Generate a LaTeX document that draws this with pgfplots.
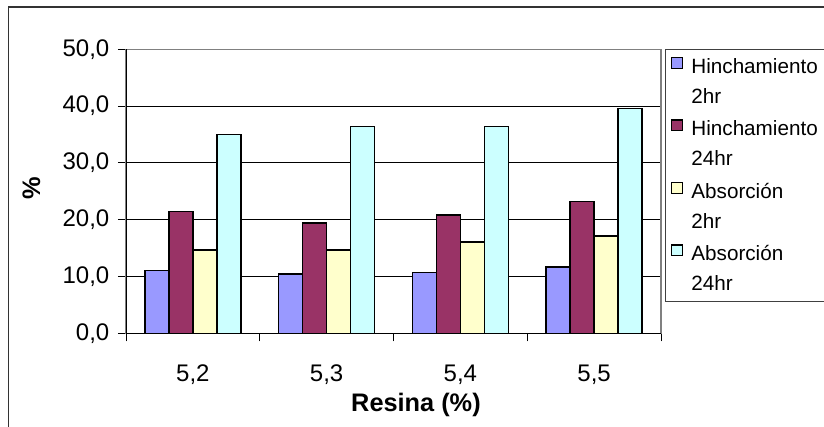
\documentclass[border=0pt]{standalone}
\usepackage{pgfplots}
\pgfplotsset{compat=1.18}
\usepackage{fontspec}
\setmainfont{Liberation Sans}

\definecolor{hin2}{HTML}{9999FF}
\definecolor{hin24}{HTML}{993366}
\definecolor{abs2}{HTML}{FFFFCC}
\definecolor{abs24}{HTML}{CCFFFF}
\definecolor{frame}{HTML}{808080}

\begin{document}
\begin{tikzpicture}[x=0.75pt,y=0.75pt]
\useasboundingbox (0,0) rectangle (824,427);
% outer chart border (left and top edges)
\draw[line width=1pt, black!80] (8.5,-5) -- (8.5,420) -- (830,420);

\begin{axis}[
  at={(94.5pt,70.275pt)}, anchor=south west,
  scale only axis, width=401.25pt, height=213pt,
  ymin=0, ymax=50, ytick={0,10,...,50},
  xmin=-0.5, xmax=3.5,
  xtick={0,1,2,3}, xticklabels={5{,}2,5{,}3,5{,}4,5{,}5},
  minor xtick={-0.5,0.5,1.5,2.5,3.5},
  major x tick style={draw=none},
  tick align=outside, tick pos=left,
  major tick length=6pt, minor tick length=6pt,
  every tick/.style={black, line width=0.6pt},
  ymajorgrids, grid style={black, line width=0.6pt},
  axis line style={frame, line width=0.9pt},
  /pgf/number format/.cd, fixed, fixed zerofill, precision=1, use comma, assume math mode=true,
  /pgfplots/.cd,
  yticklabel style={font=\fontsize{18}{21}\selectfont, xshift=-3pt},
  xticklabel style={font=\fontsize{18}{21}\selectfont, yshift=-14pt},
  ylabel={\%}, xlabel={Resina (\%)},
  label style={font=\fontsize{19}{22}\selectfont\bfseries},
  ylabel style={at={(axis description cs:-0.177,0.512)}, rotate=0, anchor=center},
  xlabel style={at={(axis description cs:0.542,-0.252)}, anchor=center},
  ybar=0pt, bar width=18pt,
  every axis plot/.append style={draw=black, line width=1.1pt},
  legend style={at={(rel axis cs:1.0075,1.001)}, anchor=north west,
    draw=black!75, line width=0.8pt, fill=white,
    font=\fontsize{15.5}{22.5}\selectfont,
    cells={align=left, anchor=west},
    row sep=7.5pt, inner xsep=4pt, inner ysep=4.5pt},
  legend cell align=left,
  legend image code/.code={%
    \draw[#1, line width=0.8pt] (0pt,10pt) rectangle (8pt,18pt);
    \path[draw=none, fill=none] (0pt,10pt) -- (13pt,10pt);},
]
\addplot[fill=hin2] coordinates {(0,11.1) (1,10.4) (2,10.7) (3,11.7)};
\addplot[fill=hin24] coordinates {(0,21.4) (1,19.4) (2,20.8) (3,23.2)};
\addplot[fill=abs2] coordinates {(0,14.7) (1,14.7) (2,16.1) (3,17.1)};
\addplot[fill=abs24] coordinates {(0,35.0) (1,36.4) (2,36.4) (3,39.6)};
\legend{Hinchamiento\\2hr, Hinchamiento\\24hr, Absorción\\2hr, Absorción\\24hr}
\draw[black, line width=0.9pt] (rel axis cs:0,0) -- (rel axis cs:0,1);
\draw[black, line width=0.9pt] (rel axis cs:0,0) -- (rel axis cs:1,0);
\end{axis}
\end{tikzpicture}
\end{document}
